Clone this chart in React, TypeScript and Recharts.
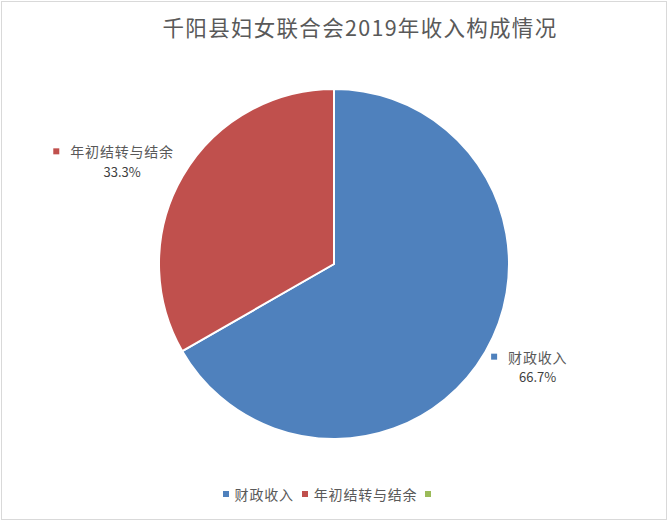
import { PieChart, Pie, Cell, Legend } from "recharts";

const categories = ["财政收入", "年初结转与结余", ""];
const values = [66.7, 33.3, 0];
const colors = ["#4F81BD", "#C0504D", "#9BBB59"];
const title = "千阳县妇女联合会2019年收入构成情况";

const FONT = '"Noto Sans CJK SC", "Liberation Sans", sans-serif';

const pieData = categories
  .map((name, i) => ({ name, value: values[i], color: colors[i] }))
  .filter((d) => d.value > 0);

const RADIAN = Math.PI / 180;

const renderLabel = (props: any) => {
  const { cx, cy, midAngle, outerRadius, percent, name, fill } = props;
  const a = -midAngle * RADIAN;
  const px = cx + (outerRadius + 10) * Math.cos(a);
  const py = cy + (outerRadius + 10) * Math.sin(a);
  const onRight = Math.cos(a) >= 0;
  const nameW = name.length * 14.8;
  const boxW = 17 + nameW;
  const left = onRight ? px - 3 : px - boxW;
  const midY = py + (Math.sin(a) > 0 ? 10 : -10);
  return (
    <g>
      <rect x={left} y={midY - 13} width={6} height={6} fill={fill} />
      <text
        x={left + 17}
        y={midY - 10}
        dominantBaseline="central"
        fontSize={14}
        letterSpacing={0.8}
        fill="#595959"
        fontFamily={FONT}
      >
        {name}
      </text>
      <text
        x={left + 17 + nameW / 2}
        y={midY + 10}
        dominantBaseline="central"
        textAnchor="middle"
        fontSize={13}
        fill="#404040"
        fontFamily={FONT}
      >
        {(percent * 100).toFixed(1)}%
      </text>
    </g>
  );
};

const renderLegend = () => (
  <div
    style={{
      display: "flex",
      justifyContent: "center",
      alignItems: "center",
      fontFamily: FONT,
      fontSize: 14,
      letterSpacing: 0.8,
      color: "#595959",
    }}
  >
    {categories.map((c, i) => (
      <div key={i} style={{ display: "flex", alignItems: "center", marginRight: 8 }}>
        <span style={{ width: 6, height: 6, background: colors[i], marginRight: 6, display: "inline-block" }} />
        <span>{c}</span>
      </div>
    ))}
  </div>
);

export default function App() {
  return (
    <div style={{ position: "absolute", left: 0, top: 0, width: 668, height: 521, background: "#fff" }}>
      <div
        style={{
          position: "absolute",
          left: 1,
          top: 1,
          width: 666,
          height: 519,
          border: "1px solid #d9d9d9",
          boxSizing: "border-box",
        }}
      />
      <div
        style={{
          position: "absolute",
          left: 60,
          width: 600,
          top: 12,
          textAlign: "center",
          whiteSpace: "nowrap",
          fontFamily: FONT,
          fontSize: 21.5,
          letterSpacing: 1.3,
          color: "#595959",
          lineHeight: "30px",
        }}
      >
        {title}
      </div>
      <PieChart
        width={668}
        height={521}
        margin={{ top: 0, right: 0, bottom: 0, left: 0 }}
        style={{ position: "absolute", left: 0, top: 0 }}
      >
        <Pie
          data={pieData}
          dataKey="value"
          nameKey="name"
          cx={334}
          cy={264}
          outerRadius={175}
          startAngle={90}
          endAngle={-270}
          stroke="#fff"
          strokeWidth={2}
          label={renderLabel}
          labelLine={false}
          isAnimationActive={false}
        >
          {pieData.map((d, i) => (
            <Cell key={i} fill={d.color} />
          ))}
        </Pie>
        <Legend
          content={renderLegend}
          wrapperStyle={{ position: "absolute", left: 0, width: 668, top: 484 }}
        />
      </PieChart>
    </div>
  );
}
